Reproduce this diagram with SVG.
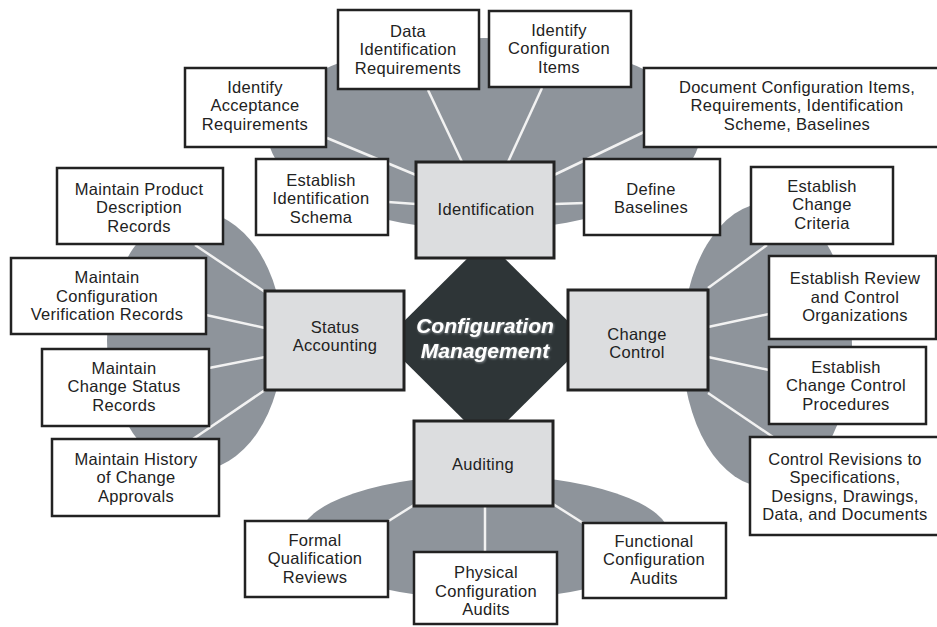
<svg xmlns="http://www.w3.org/2000/svg" width="937" height="627" viewBox="0 0 937 627">
<style>
.bg{fill:#8e949b}
.c{stroke:#f2f2f2;stroke-width:2.5;fill:none}
.b{fill:#fff;stroke:#222;stroke-width:2.5}
.m{fill:#dcdddf;stroke:#222;stroke-width:3}
text{font-family:"Liberation Sans",Arial,sans-serif;font-size:16.5px;letter-spacing:0.3px;fill:#222;text-anchor:middle}
.t{font-weight:bold;font-style:italic;font-size:21px;letter-spacing:0;fill:#fff}
</style>
<defs>
<filter id="glow" x="-10%" y="-30%" width="120%" height="160%">
<feDropShadow dx="0.8" dy="0.8" stdDeviation="0.8" flood-color="#9aa0a4" flood-opacity="0.9"/>
</filter>
</defs>
<g id="backgrounds">
<ellipse class="bg" cx="484" cy="134" rx="216" ry="96"/>
<ellipse class="bg" cx="767" cy="345" rx="85" ry="142"/>
<ellipse class="bg" cx="195" cy="341" rx="88" ry="130"/>
<ellipse class="bg" cx="485" cy="537" rx="185" ry="62"/>
</g>
<g id="connectors">
<line class="c" x1="327" y1="138" x2="416" y2="175"/>
<line class="c" x1="388" y1="202" x2="416" y2="204"/>
<line class="c" x1="428" y1="90" x2="462" y2="162"/>
<line class="c" x1="542" y1="88" x2="508" y2="162"/>
<line class="c" x1="644" y1="132" x2="554" y2="175"/>
<line class="c" x1="554" y1="204" x2="585" y2="203"/>
<line class="c" x1="195" y1="245" x2="265" y2="292"/>
<line class="c" x1="206" y1="315" x2="265" y2="328"/>
<line class="c" x1="209" y1="368" x2="265" y2="357"/>
<line class="c" x1="193" y1="439" x2="265" y2="390"/>
<line class="c" x1="708" y1="288" x2="767" y2="245"/>
<line class="c" x1="708" y1="327" x2="769" y2="314"/>
<line class="c" x1="708" y1="357" x2="769" y2="370"/>
<line class="c" x1="708" y1="393" x2="773" y2="437"/>
<line class="c" x1="414" y1="505" x2="387" y2="522"/>
<line class="c" x1="485" y1="506" x2="485" y2="552"/>
<line class="c" x1="553" y1="504" x2="583" y2="523"/>
</g>
<g id="center">
<polygon points="486,240 588,341 486,442 384,341" fill="#2e3537"/>
<g filter="url(#glow)">
<text class="t" x="485" y="333">Configuration</text>
<text class="t" x="485" y="358">Management</text>
</g>
</g>
<g id="identification">
<rect class="m" x="416" y="162" width="138" height="96"/>
<text x="486" y="215">Identification</text>
</g>
<g id="status-accounting">
<rect class="m" x="265" y="291" width="139" height="99"/>
<text x="335" y="332.75">Status</text>
<text x="335" y="351.25">Accounting</text>
</g>
<g id="change-control">
<rect class="m" x="568" y="290" width="140" height="100"/>
<text x="637" y="339.75">Change</text>
<text x="637" y="358.25">Control</text>
</g>
<g id="auditing">
<rect class="m" x="414" y="421" width="139" height="85"/>
<text x="483" y="470">Auditing</text>
</g>
<g id="data-identification">
<rect class="b" x="338" y="10" width="141" height="79"/>
<text x="408" y="36.5">Data</text>
<text x="408" y="55">Identification</text>
<text x="408" y="73.5">Requirements</text>
</g>
<g id="identify-config-items">
<rect class="b" x="489" y="11" width="142" height="76"/>
<text x="559" y="35.5">Identify</text>
<text x="559" y="54">Configuration</text>
<text x="559" y="72.5">Items</text>
</g>
<g id="identify-acceptance">
<rect class="b" x="185" y="68" width="141" height="79"/>
<text x="255" y="92.5">Identify</text>
<text x="255" y="111">Acceptance</text>
<text x="255" y="129.5">Requirements</text>
</g>
<g id="establish-schema">
<rect class="b" x="256" y="159" width="132" height="76"/>
<text x="321" y="185.5">Establish</text>
<text x="321" y="204">Identification</text>
<text x="321" y="222.5">Schema</text>
</g>
<g id="define-baselines">
<rect class="b" x="584" y="159" width="136" height="76"/>
<text x="651" y="194.75">Define</text>
<text x="651" y="213.25">Baselines</text>
</g>
<g id="document-items">
<rect class="b" x="644" y="68" width="296" height="79"/>
<text x="797" y="92.5">Document Configuration Items,</text>
<text x="797" y="111">Requirements, Identification</text>
<text x="797" y="129.5">Scheme, Baselines</text>
</g>
<g id="product-description">
<rect class="b" x="57" y="168" width="166" height="76"/>
<text x="139" y="194.5">Maintain Product</text>
<text x="139" y="213">Description</text>
<text x="139" y="231.5">Records</text>
</g>
<g id="verification-records">
<rect class="b" x="11" y="258" width="195" height="76"/>
<text x="107" y="283">Maintain</text>
<text x="107" y="301.5">Configuration</text>
<text x="107" y="320">Verification Records</text>
</g>
<g id="change-status">
<rect class="b" x="42" y="349" width="167" height="77"/>
<text x="124" y="373.5">Maintain</text>
<text x="124" y="392">Change Status</text>
<text x="124" y="410.5">Records</text>
</g>
<g id="history-approvals">
<rect class="b" x="52" y="439" width="167" height="77"/>
<text x="136" y="464.5">Maintain History</text>
<text x="136" y="483">of Change</text>
<text x="136" y="501.5">Approvals</text>
</g>
<g id="change-criteria">
<rect class="b" x="751" y="167" width="142" height="77"/>
<text x="822" y="191.5">Establish</text>
<text x="822" y="210">Change</text>
<text x="822" y="228.5">Criteria</text>
</g>
<g id="review-organizations">
<rect class="b" x="769" y="256" width="167" height="83"/>
<text x="855" y="284">Establish Review</text>
<text x="855" y="302.5">and Control</text>
<text x="855" y="321">Organizations</text>
</g>
<g id="change-procedures">
<rect class="b" x="769" y="347" width="157" height="77"/>
<text x="846" y="372.5">Establish</text>
<text x="846" y="391">Change Control</text>
<text x="846" y="409.5">Procedures</text>
</g>
<g id="control-revisions">
<rect class="b" x="750" y="437" width="190" height="98"/>
<text x="845" y="464.75">Control Revisions to</text>
<text x="845" y="483.25">Specifications,</text>
<text x="845" y="501.75">Designs, Drawings,</text>
<text x="845" y="520.25">Data, and Documents</text>
</g>
<g id="formal-qualification">
<rect class="b" x="245" y="521" width="143" height="76"/>
<text x="315" y="545.5">Formal</text>
<text x="315" y="564">Qualification</text>
<text x="315" y="582.5">Reviews</text>
</g>
<g id="physical-audits">
<rect class="b" x="414" y="552" width="143" height="72"/>
<text x="486" y="578">Physical</text>
<text x="486" y="596.5">Configuration</text>
<text x="486" y="615">Audits</text>
</g>
<g id="functional-audits">
<rect class="b" x="583" y="523" width="143" height="75"/>
<text x="654" y="546.5">Functional</text>
<text x="654" y="565">Configuration</text>
<text x="654" y="583.5">Audits</text>
</g>
</svg>
